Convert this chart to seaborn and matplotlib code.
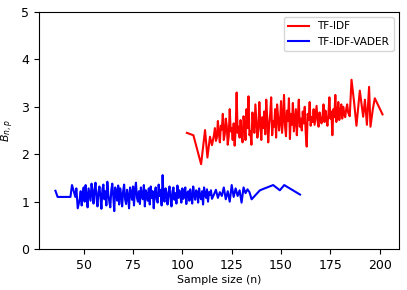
import matplotlib
matplotlib.use("Agg")
import matplotlib.pyplot as plt
import seaborn as sns
import numpy as np

# TF-IDF series: sparse start, dense middle (step 0.5), sparse tail
tfidf_head_x = [102.3, 105.6, 109.5, 111.5, 112.7, 114.0, 115.0]
tfidf_head_y = [2.45, 2.40, 1.79, 2.51, 1.93, 2.37, 2.19]
tfidf_mid_start, tfidf_mid_step = 116.0, 0.5
tfidf_mid_y = [
    2.40, 2.55, 2.28, 2.35, 2.70, 2.45, 2.25, 2.60, 2.52, 2.85,
    2.30, 2.42, 2.75, 2.60, 2.20, 2.38, 2.95, 2.48, 2.55, 2.30,
    2.65, 2.18, 2.50, 3.30, 2.45, 2.58, 2.35, 2.72, 2.40, 2.25,
    2.80, 2.62, 2.30, 2.95, 2.55, 3.22, 2.40, 2.48, 2.20, 2.88,
    2.60, 2.45, 3.05, 2.70, 2.35, 2.52, 3.10, 2.65, 2.30, 2.78,
    2.55, 2.90, 2.42, 3.15, 2.75, 2.25, 2.62, 2.85, 3.20, 2.40,
    2.70, 2.58, 2.95, 2.35, 3.05, 2.80, 2.50, 2.68, 3.12, 2.45,
    2.75, 3.25, 2.60, 2.38, 2.92, 2.70, 3.18, 2.32, 2.85, 2.62,
    3.08, 2.48, 2.72, 2.95, 2.40, 2.80, 3.15, 2.58, 2.75, 2.50,
    2.90, 2.65, 3.00, 2.45, 2.16, 2.85, 2.72, 3.10, 2.60, 2.78,
    2.68, 2.95, 2.62, 2.82, 3.02, 2.70, 2.58, 2.88, 2.75, 2.65,
    2.80, 3.05, 2.68, 2.92, 2.72, 2.60, 2.85, 3.20, 2.75, 2.90,
    2.40, 2.95, 2.78, 3.25, 2.68, 2.82, 3.10, 2.72, 2.90, 3.05,
    2.75, 3.00, 2.85, 2.78, 2.95, 3.05, 2.88,
]
tfidf_tail_x = [184.8, 185.7, 187.0, 188.2, 189.9, 191.6, 192.5, 193.5, 194.6, 195.3, 196.5, 197.5, 201.4]
tfidf_tail_y = [2.80, 3.57, 3.10, 2.60, 3.34, 2.79, 3.15, 2.62, 3.42, 2.58, 2.95, 3.18, 2.84]

# TF-IDF-VADER series
vader_head_x = [35.7, 36.8, 43.3, 44.1, 45.8, 46.3, 47.0]
vader_head_y = [1.23, 1.10, 1.10, 1.35, 1.10, 1.28, 0.86]
vader_mid_start, vader_mid_step = 48.0, 0.5
vader_mid_y = [
    1.05, 1.22, 0.92, 1.15, 1.30, 1.00, 1.35, 1.10, 0.88, 1.28,
    1.15, 1.02, 1.38, 1.20, 0.96, 1.25, 1.40, 1.08, 0.90, 1.20,
    1.32, 1.10, 0.85, 1.26, 1.36, 1.05, 1.22, 0.92, 1.42, 1.15,
    1.00, 0.88, 1.24, 1.38, 1.12, 0.80, 1.30, 1.18, 1.02, 1.34,
    0.94, 1.28, 1.15, 0.90, 1.22, 1.36, 1.05, 0.95, 1.25, 1.12,
    0.86, 1.30, 1.18, 1.04, 1.32, 0.92, 1.26, 1.40, 1.08, 1.00,
    1.22, 0.95, 1.30, 1.12, 1.05, 1.35, 0.90, 1.24, 1.15, 1.02,
    1.28, 0.94, 1.32, 1.08, 1.22, 0.86, 1.18, 1.30, 1.04, 0.98,
    1.36, 1.12, 1.25, 0.92, 1.56, 1.05, 1.00, 1.28, 1.15, 0.94,
    1.20, 1.32, 1.06, 0.90, 1.22, 1.30, 1.04, 1.18, 0.96, 1.34,
    1.08, 1.24, 1.12, 0.98, 1.28, 1.06, 1.20, 1.30, 0.95, 1.18,
    1.22, 1.02, 1.26, 1.10, 0.96, 1.32, 1.15, 1.04, 1.24, 1.20,
    0.98, 1.28, 1.12, 1.05, 1.22, 0.94, 1.30, 1.16, 1.08, 1.26,
    1.00, 1.20, 1.14, 1.24, 1.06,
]
vader_late_x = list(range(116, 135))
vader_late_y = [1.15, 1.25, 1.08, 1.20, 1.12, 1.30, 1.05, 1.22, 1.00, 1.35,
                1.10, 1.28, 1.12, 1.24, 0.98, 1.30, 1.18, 1.26, 1.20]
vader_tail_x = [135.1, 139.3, 146.0, 149.4, 151.6, 159.6]
vader_tail_y = [1.05, 1.24, 1.35, 1.24, 1.35, 1.15]

tfidf_x = (tfidf_head_x
           + list(tfidf_mid_start + tfidf_mid_step * np.arange(len(tfidf_mid_y)))
           + tfidf_tail_x)
tfidf_y = tfidf_head_y + tfidf_mid_y + tfidf_tail_y
vader_x = (vader_head_x
           + list(vader_mid_start + vader_mid_step * np.arange(len(vader_mid_y)))
           + vader_late_x + vader_tail_x)
vader_y = vader_head_y + vader_mid_y + vader_late_y + vader_tail_y

fig, ax = plt.subplots(figsize=(4.07, 2.9), dpi=100)
fig.subplots_adjust(left=0.096, right=0.98, top=0.959, bottom=0.141)

sns.lineplot(x=tfidf_x, y=tfidf_y, color="red", label="TF-IDF",
             estimator=None, sort=False, linewidth=1.5, ax=ax)
sns.lineplot(x=vader_x, y=vader_y, color="blue", label="TF-IDF-VADER",
             estimator=None, sort=False, linewidth=1.5, ax=ax)

ax.set_ylim(0, 5)
ax.set_xlabel("Sample size (n)", fontsize=7.8, labelpad=2)
ax.set_ylabel("$B_{n,p}$", fontsize=7.8)
ax.tick_params(labelsize=9)
ax.legend(loc="upper right", fontsize=7.6)

fig.savefig("out.png", dpi=100)
